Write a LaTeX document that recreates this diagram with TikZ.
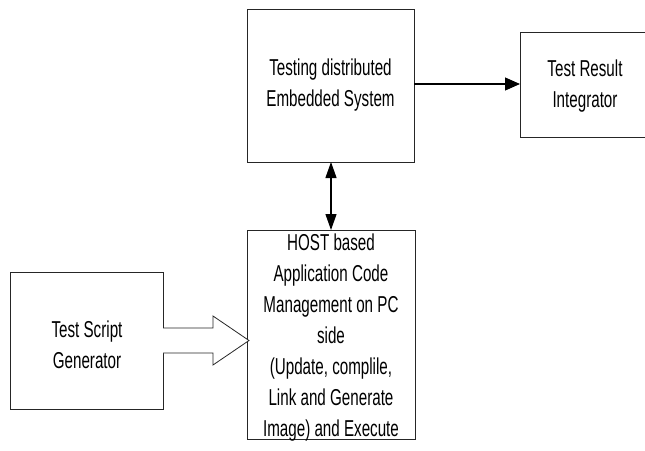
\documentclass[tikz,border=0pt]{standalone}
\usepackage{fontspec}
\setmainfont{Liberation Sans}[FakeStretch=0.66]
\usetikzlibrary{arrows.meta}
\begin{document}
\begin{tikzpicture}[x=1pt,y=-1pt,
  box/.style={draw=black!85,line width=1pt},
  lbl/.style={align=center,font=\fontsize{23}{31}\selectfont,inner sep=0pt},
  conn/.style={line width=1.2pt,-{Triangle[length=15pt,width=13pt]}},
  both/.style={line width=1.2pt,{Triangle[length=16pt,width=11pt]}-{Triangle[length=16pt,width=11pt]}}]
\useasboundingbox (0,0) rectangle (645,450);
% boxes
\draw[box] (247,9) rectangle (414,162);
\node[lbl] (embedded) at (330.5,85.5) {Testing distributed\\Embedded System};
\draw[box] (520,32) rectangle (660,137);
\node[lbl] (integrator) at (585,86.5) {Test Result\\Integrator};
\draw[box] (10,272) rectangle (163,409);
\node[lbl] (generator) at (87,344.5) {Test Script\\Generator};
\draw[box] (247,230) rectangle (415,439);
\node[lbl] (host) at (331,338) {HOST based\\Application Code\\Management on PC\\side\\(Update, complile,\\Link and Generate\\Image) and Execute};
% anchors on the box edges
\coordinate (embR) at (414,84);
\coordinate (intL) at (520,84);
\coordinate (embB) at (331,162);
\coordinate (hostT) at (331,230);
% connectors
\draw[conn] (embR) -- (intL);
\draw[both] (embB) -- (hostT);
% hollow block arrow from the generator to the host
\draw[draw=black!85,line width=0.8pt,fill=white]
  (163,328) -- (213,328) -- (213,316) -- (249,340.5) -- (213,365) -- (213,353) -- (163,353);
\end{tikzpicture}
\end{document}
